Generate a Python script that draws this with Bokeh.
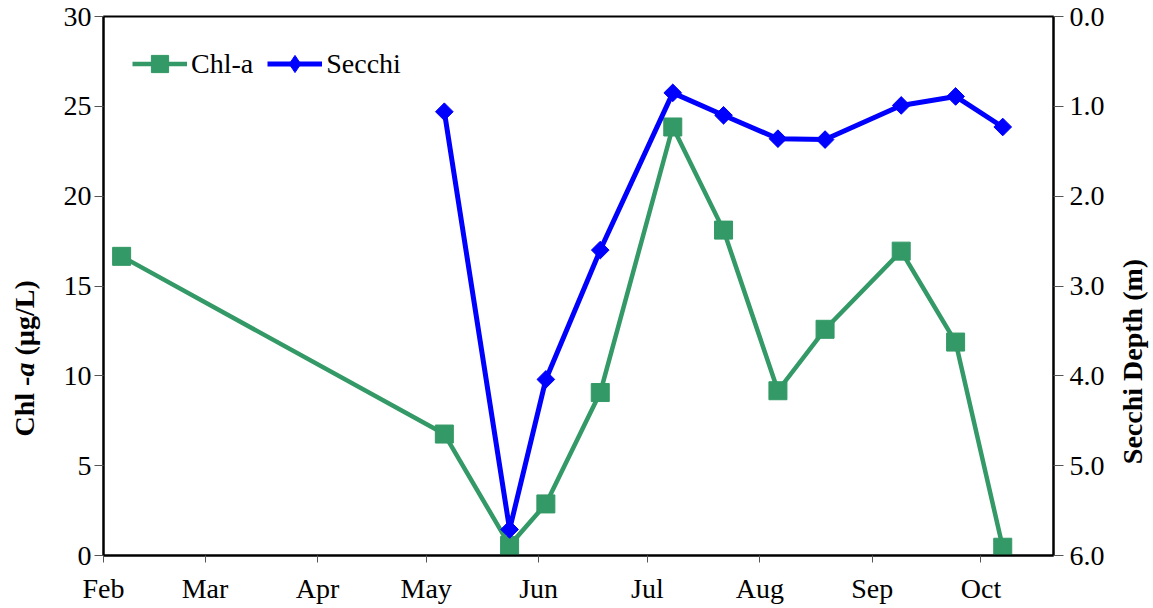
import math

import pandas as pd
from bokeh.core.properties import value
from bokeh.embed import file_html
from bokeh.layouts import row
from bokeh.models import (DatetimeTickFormatter, FixedTicker, Legend,
                          LegendItem, LinearAxis, NumeralTickFormatter, Range1d)
from bokeh.plotting import figure
from bokeh.resources import INLINE

# Sampling dates and measurements
chl_dates = ["2013-02-06", "2013-05-06", "2013-05-24", "2013-06-03",
             "2013-06-18", "2013-07-08", "2013-07-22", "2013-08-06",
             "2013-08-19", "2013-09-09", "2013-09-24", "2013-10-07"]
chl_a = [16.65, 6.76, 0.56, 2.87, 9.07, 23.85, 18.11, 9.17, 12.59, 16.94, 11.88, 0.46]

secchi_dates = ["2013-05-06", "2013-05-24", "2013-06-03", "2013-06-18",
                "2013-07-08", "2013-07-22", "2013-08-06", "2013-08-19",
                "2013-09-09", "2013-09-24", "2013-10-07"]
secchi_depth = [1.06, 5.71, 4.04, 2.60, 0.85, 1.10, 1.36, 1.37, 0.99, 0.89, 1.23]

month_ticks = ["2013-02-01", "2013-03-01", "2013-04-01", "2013-05-01", "2013-06-01",
               "2013-07-01", "2013-08-01", "2013-09-01", "2013-10-01"]
chl_ticks = [0, 5, 10, 15, 20, 25, 30]
secchi_ticks = [0, 1, 2, 3, 4, 5, 6]

GREEN = "#339966"
BLUE = "#0000FF"
FONT = "Liberation Serif"

H = 608
LEFT_W, RIGHT_W = 45, 40
MAIN_W = 1153 - LEFT_W - RIGHT_W


def to_ms(dates):
    ts = pd.to_datetime(dates)
    return [float(v) for v in (ts - pd.Timestamp("1970-01-01")) // pd.Timedelta(milliseconds=1)]


x_start, x_end = to_ms(["2013-02-01", "2013-10-21"])

p = figure(width=MAIN_W, height=H, x_axis_type="datetime",
           x_range=Range1d(x_start, x_end), y_range=Range1d(0, 30),
           output_backend="svg", toolbar_location=None,
           min_border_left=103 - LEFT_W, min_border_right=100 - RIGHT_W,
           min_border_top=16, min_border_bottom=53)
p.xgrid.visible = False
p.ygrid.visible = False
p.outline_line_color = "black"
p.outline_line_width = 2
p.background_fill_color = "white"
p.border_fill_color = "white"

p.extra_y_ranges = {"secchi": Range1d(6, 0)}
right_axis = LinearAxis(y_range_name="secchi",
                        ticker=FixedTicker(ticks=secchi_ticks),
                        formatter=NumeralTickFormatter(format="0.0"))
p.add_layout(right_axis, "right")


def style_axis(ax, tick_out, standoff):
    ax.axis_line_color = "black"
    ax.axis_line_width = 2
    ax.major_tick_in = 0
    ax.major_tick_out = tick_out
    ax.major_tick_line_color = "#555555"
    ax.major_tick_line_width = 1
    ax.minor_tick_in = 0
    ax.minor_tick_out = 0
    ax.major_label_text_font = FONT
    ax.major_label_text_font_size = "28px"
    ax.major_label_text_color = "black"
    ax.major_label_standoff = standoff


xaxis = p.below[0]
xaxis.ticker = FixedTicker(ticks=to_ms(month_ticks))
xaxis.formatter = DatetimeTickFormatter(days="%b", months="%b", years="%b",
                                        hours="%b", hourmin="%b")
style_axis(xaxis, 7, 10)

left_axis = p.left[0]
left_axis.ticker = FixedTicker(ticks=chl_ticks)
style_axis(left_axis, 9, 3)
style_axis(right_axis, 10, 6)

# Chlorophyll-a series (left axis)
chl_line = p.line(to_ms(chl_dates), chl_a, color=GREEN, line_width=4.5)
chl_pts = p.scatter(to_ms(chl_dates), chl_a, marker="square", size=18,
                    color=GREEN)

# Secchi depth series (right axis, depth increasing downward)
sec_line = p.line(to_ms(secchi_dates), secchi_depth, color=BLUE, line_width=5,
                  y_range_name="secchi")
sec_key = p.scatter(to_ms(secchi_dates), secchi_depth, marker="diamond",
                    size=16, color=BLUE, y_range_name="secchi")
sec_pts = p.scatter(to_ms(secchi_dates), secchi_depth, marker="square",
                    angle=math.pi / 4, size=12.5, color=BLUE,
                    y_range_name="secchi")

legend = Legend(items=[LegendItem(label="Chl-a", renderers=[chl_line, chl_pts]),
                       LegendItem(label="Secchi", renderers=[sec_line, sec_key])],
                location=(29, 470), orientation="horizontal",
                border_line_color=None, background_fill_alpha=0,
                margin=0, padding=0, spacing=14, label_standoff=4,
                glyph_width=55, glyph_height=43,
                label_text_font=FONT, label_text_font_size="28px",
                label_text_color="black")
p.add_layout(legend)


def title_strip(width):
    f = figure(frame_width=width, frame_height=H, x_range=Range1d(0, width),
               y_range=Range1d(0, H), output_backend="svg",
               toolbar_location=None, x_axis_location=None,
               y_axis_location=None, min_border=0, title=None)
    f.xgrid.visible = False
    f.ygrid.visible = False
    f.outline_line_color = None
    f.background_fill_color = "white"
    f.border_fill_color = "white"
    return f


text_kw = dict(angle=math.pi / 2, text_font=value(FONT), text_font_size="28px",
               text_color="black", text_baseline="middle")

# Left axis title: "Chl -a (µg/L)" with an italic "a"
left_title = title_strip(LEFT_W)
y0 = H - 420
left_title.text(x=[24], y=[y0], text=["Chl -"], text_font_style="bold",
                text_align="left", **text_kw)
left_title.text(x=[24], y=[y0 + 60], text=["a"], text_font_style="bold italic",
                text_align="left", **text_kw)
left_title.text(x=[24], y=[y0 + 60 + 14 + 7], text=["(µg/L)"],
                text_font_style="bold", text_align="left", **text_kw)

# Right axis title
right_title = title_strip(RIGHT_W)
right_title.text(x=[19], y=[H - 345], text=["Secchi Depth (m)"],
                 text_font_style="bold", text_align="center", **text_kw)

layout = row(left_title, p, right_title, spacing=0)
open("out.html", "w").write(file_html(layout, INLINE))
